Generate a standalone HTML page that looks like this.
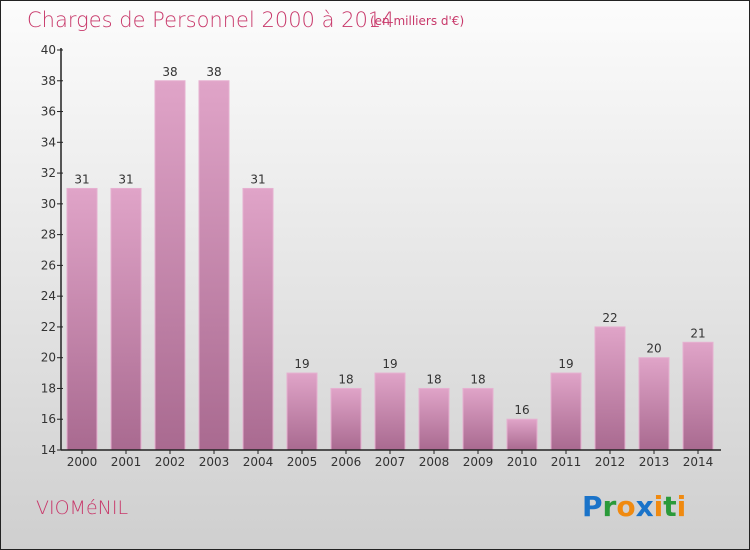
<!DOCTYPE html>
<html><head><meta charset="utf-8"><style>
body{margin:0}
#c{position:relative;width:750px;height:550px;box-sizing:border-box;border:1px solid #222;background:linear-gradient(#fcfcfc,#cfcfcf);font-family:"DejaVu Sans","Liberation Sans",sans-serif;overflow:hidden}
</style></head><body>
<div id="c">
<svg width="750" height="550" style="position:absolute;left:-1px;top:-1px">
<defs><linearGradient id="g" x1="0" y1="0" x2="0" y2="1"><stop offset="0" stop-color="#e0a4c8"/><stop offset="1" stop-color="#a96a90"/></linearGradient></defs>
<text x="27" y="27" font-size="21" fill="#c8386a" font-family="DejaVu Sans,sans-serif" font-weight="200">Charges de Personnel 2000 à 2014</text>
<text x="370" y="25" font-size="12" fill="#c8386a">(en milliers d'€)</text>
<g id="plot"></g>
<text x="36" y="514" font-size="19" fill="#c8386a" font-weight="200">VIOMéNIL</text>
<g font-size="28" font-weight="bold" font-family="DejaVu Sans,sans-serif">
<text x="582" y="516"><tspan fill="#1a73c9">P</tspan><tspan fill="#2a9a3a">r</tspan><tspan fill="#f08a10">o</tspan><tspan fill="#1a73c9">x</tspan><tspan fill="#f08a10">i</tspan><tspan fill="#2a9a3a">t</tspan><tspan fill="#f08a10">i</tspan></text>
</g>
</svg>
</div>
<script>
const years=["2000","2001","2002","2003","2004","2005","2006","2007","2008","2009","2010","2011","2012","2013","2014"];
const values=[31,31,38,38,31,19,18,19,18,18,16,19,22,20,21];
const yTicks=[14,16,18,20,22,24,26,28,30,32,34,36,38,40];
const NS="http://www.w3.org/2000/svg";
const g=document.getElementById('plot');
const x0=61,x1=721,slot=44,yMin=14,yMax=40,yTop=50,yBot=450;
const y=v=>yBot-(v-yMin)/(yMax-yMin)*(yBot-yTop);
const xc=i=>60+slot/2+i*slot;
function mk(t,a){const e=document.createElementNS(NS,t);for(const k in a)e.setAttribute(k,a[k]);g.appendChild(e);return e;}
values.forEach((v,i)=>{
 const r=mk('rect',{x:xc(i)-15,y:y(v),width:30,height:yBot-y(v),fill:'url(#g)',stroke:'#e6b0d0','stroke-width':1});
 
 
 const t=mk('text',{x:xc(i),y:y(v)-5,'text-anchor':'middle','font-size':12,fill:'#333'});
 t.textContent=v;
 
 
 const xl=mk('text',{x:xc(i),y:466,'text-anchor':'middle','font-size':12,fill:'#333'});
 xl.textContent=years[i];
 
 
 const tk=mk('line',{x1:xc(i),x2:xc(i),y1:yBot,y2:yBot+4,stroke:'#222'});
 
 
});
yTicks.forEach(v=>{
 const l=mk('line',{x1:x0-4,x2:x0+2,y1:y(v),y2:y(v),stroke:'#222'});
 
 
 const t=mk('text',{x:x0-5,y:y(v)+4,'text-anchor':'end','font-size':12,fill:'#333'});
 t.textContent=v;
 
 
});
const ya=mk('line',{x1:x0,x2:x0,y1:yTop-2,y2:yBot,stroke:'#222','stroke-width':1.5});


const xa=mk('line',{x1:x0,x2:x1,y1:yBot,y2:yBot,stroke:'#222','stroke-width':1.5});


</script>
</body></html>
